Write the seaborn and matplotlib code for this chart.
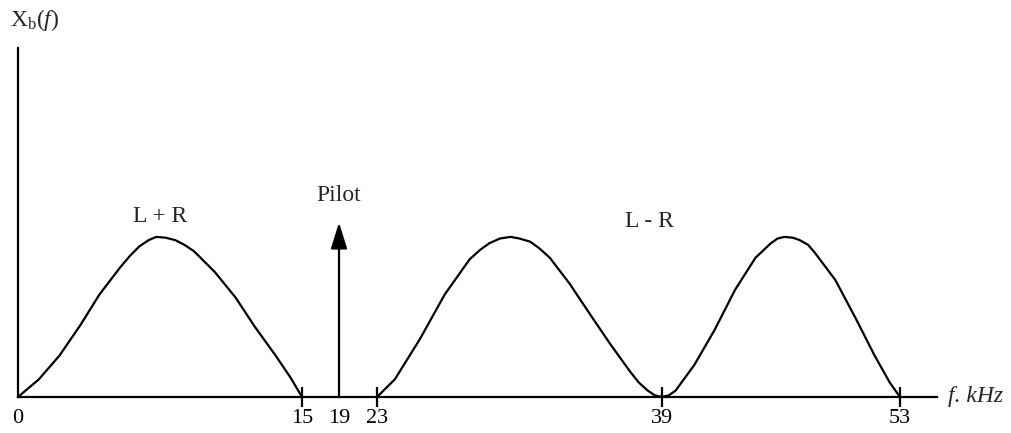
import numpy as np
import matplotlib
matplotlib.use('Agg')
import matplotlib.pyplot as plt
import seaborn as sns

# 基頻頻譜 (kHz, 相對振幅)
lpr_freq = [0, 1.1, 2.2, 3.3, 4.3, 5.4, 5.9, 6.4, 6.9, 7.3, 7.8, 8.3, 8.8, 9.3, 10.4, 11.5,
            12.5, 13.6, 14.4, 15]
lpr_amp = [0, 0.11, 0.26, 0.45, 0.64, 0.81, 0.88, 0.94, 0.98, 1.0, 0.995, 0.98, 0.95, 0.91,
           0.78, 0.62, 0.44, 0.26, 0.12, 0]

lmr_freq = [23, 24.0, 25.4, 26.8, 28.2, 28.8, 29.3, 29.9, 30.5, 31.0, 31.6, 32.1, 32.7, 33.8,
            35.0, 36.1, 37.2, 37.7, 38.2, 38.6, 39,
            39.4, 39.8, 40.9, 42.1, 43.3, 44.5, 45.0, 45.4, 45.8, 46.2, 46.7, 47.1, 47.6,
            48.0, 49.2, 50.4, 51.5, 52.4, 53]
lmr_amp = [0, 0.11, 0.36, 0.64, 0.86, 0.92, 0.96, 0.99, 1.0, 0.99, 0.97, 0.93, 0.87, 0.71,
           0.51, 0.33, 0.16, 0.09, 0.04, 0.01, 0,
           0.01, 0.04, 0.20, 0.42, 0.67, 0.87, 0.92, 0.96, 0.99, 1.0, 0.995, 0.98, 0.95,
           0.90, 0.73, 0.49, 0.26, 0.09, 0]

pilot_freq = 19
pilot_amp = 1.09

tick_freqs = [0, 15, 19, 23, 39, 53]
tick_labels = ['0', '15', '19', '23', '39', '53']

# 示意圖的頻率軸不是等比例，用分段線性對應到畫面位置 (px)
anchor_khz = [-10, 0, 15, 19, 23, 39, 53, 70]
anchor_pos = [-171, 18, 302, 339, 377, 662, 900, 1189]


def fwd(x):
    return np.interp(x, anchor_khz, anchor_pos)


def inv(p):
    return np.interp(p, anchor_pos, anchor_khz)


sns.set_theme(style='white')
plt.rcParams['font.family'] = ['Liberation Serif', 'DejaVu Serif']
plt.rcParams['mathtext.fontset'] = 'custom'
plt.rcParams['mathtext.rm'] = 'Liberation Serif'
plt.rcParams['mathtext.it'] = 'Liberation Serif:italic'

fig = plt.figure(figsize=(10.12, 4.33), dpi=100)
ax = fig.add_axes([0, 0, 1, 1])
ax.set_xscale('function', functions=(fwd, inv))

sns.lineplot(x=lpr_freq, y=lpr_amp, ax=ax, color='black', lw=1.6, estimator=None, sort=False)
sns.lineplot(x=lmr_freq, y=lmr_amp, ax=ax, color='black', lw=1.6, estimator=None, sort=False)

# 導頻箭頭
ax.annotate('', xy=(pilot_freq, pilot_amp), xytext=(pilot_freq, 0),
            arrowprops=dict(arrowstyle='-|>,head_length=0.4,head_width=0.125',
                            mutation_scale=40, color='black', lw=1.6,
                            shrinkA=0, shrinkB=0))

ax.set_xlim(inv(0), inv(1012))
ax.set_ylim(-0.225, 2.48)

# 座標軸
for s in ['top', 'right']:
    ax.spines[s].set_visible(False)
ax.spines['left'].set_position(('data', 0))
ax.spines['left'].set_bounds(0, 2.18)
ax.spines['bottom'].set_position(('data', 0))
ax.spines['bottom'].set_bounds(0, 55.2)
for s in ['left', 'bottom']:
    ax.spines[s].set_color('black')
    ax.spines[s].set_linewidth(1.6)

ax.set_yticks([])
ax.set_xticks(tick_freqs, labels=tick_labels)
ax.tick_params(axis='x', bottom=True, direction='inout', length=14, width=1.6,
               labelsize=16, pad=2, colors='black')
for t, f in zip(ax.xaxis.get_major_ticks(), tick_freqs):
    if f in (0, 19):
        t.tick1line.set_visible(False)
ax.set_xlabel('')
ax.set_ylabel('')

# 標註文字
ax.text(7.5, 1.125, 'L + R', ha='center', va='center', fontsize=17)
ax.text(19, 1.26, 'Pilot', ha='center', va='center', fontsize=17)
ax.text(38.3, 1.094, 'L - R', ha='center', va='center', fontsize=17)
ax.text(55.8, 0, 'f. kHz', style='italic', ha='left', va='center', fontsize=17)
ax.text(0.0099, 0.954, r'$\mathrm{X}_{\mathrm{b}}\mathit{(f)}$', transform=ax.transAxes,
        ha='left', va='center', fontsize=17)

fig.savefig('out.png', dpi=100, facecolor='white')
